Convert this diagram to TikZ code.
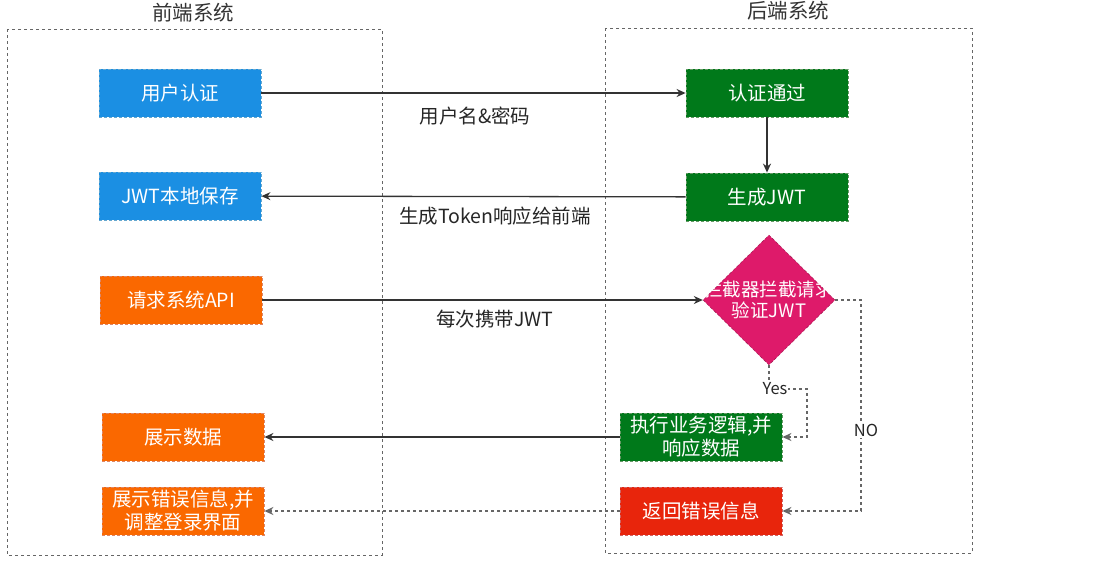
\documentclass[tikz,border=0pt]{standalone}
\usepackage{fontspec}
\setmainfont{Noto Sans CJK SC}
\usetikzlibrary{shapes.geometric,arrows.meta}

\definecolor{blueF}{HTML}{1B8FE3}
\definecolor{blueS}{HTML}{006EAF}
\definecolor{orgF}{HTML}{FA6800}
\definecolor{orgS}{HTML}{C73500}
\definecolor{grnF}{HTML}{00791A}
\definecolor{grnS}{HTML}{005700}
\definecolor{redF}{HTML}{E8250C}
\definecolor{redS}{HTML}{B20000}
\definecolor{pinkF}{HTML}{DE1A6A}
\definecolor{lineC}{HTML}{333333}
\definecolor{dashC}{HTML}{666666}

\begin{document}
\begin{tikzpicture}[x=1pt, y=-1pt,
  box/.style={minimum width=162pt, minimum height=48pt, inner sep=0pt, align=center,
    text=white, dash pattern=on 3pt off 2pt, line width=0.8pt,
    font=\fontsize{19.5}{23}\selectfont},
  bluebox/.style={box, fill=blueF, draw=blueS!60},
  orgbox/.style={box, fill=orgF, draw=orgS!60},
  grnbox/.style={box, fill=grnF, draw=grnS!60!white},
  redbox/.style={box, fill=redF, draw=redS!60},
  frame/.style={draw=dashC, line width=1pt, dash pattern=on 3pt off 3pt},
  title/.style={text=lineC, font=\fontsize{20.5}{24}\selectfont},
  lbl/.style={text=black!85, font=\fontsize{19.5}{23}\selectfont},
  flow/.style={draw=lineC, line width=1.3pt, -{Stealth[length=9pt,width=8pt]}},
  dflow/.style={draw=dashC, line width=1.3pt, dash pattern=on 3pt off 3pt,
    -{Stealth[length=9pt,width=8pt]}}]

  %% ════ 两个系统框 ════
  \draw[frame] (7,29) rectangle (382,555);
  \draw[frame] (605,28) rectangle (972,553);
  \node[title] (fe) at (193,13) {前端系统};
  \node[title] (be) at (788,11) {后端系统};

  %% ════ 前端节点 ════
  \node[bluebox] (auth)  at (180,93)  {用户认证};
  \node[bluebox] (store) at (180,196) {JWT本地保存};
  \node[orgbox]  (req)   at (181,300) {请求系统API};
  \node[orgbox]  (show)  at (183,437) {展示数据};
  \node[orgbox]  (showerr) at (183,511) {展示错误信息,并\\调整登录界面};

  %% ════ 后端节点 ════
  \node[grnbox] (pass) at (767,93)  {认证通过};
  \node[grnbox] (gen)  at (767,197) {生成JWT};
  \node[diamond, fill=pinkF, draw=pinkF!70!black, dash pattern=on 3pt off 2pt,
        minimum width=132pt, minimum height=130pt, inner sep=0pt] (check) at (769,300) {};
  \node[align=center, text=white, font=\fontsize{18.5}{21}\selectfont] (checktxt) at (check.center) {拦截器拦截请求\\验证JWT};
  \node[grnbox] (exec) at (701,437) {执行业务逻辑,并\\响应数据};
  \node[redbox] (err)  at (701,511) {返回错误信息};

  %% ════ 连线 ════
  \coordinate (yesturn) at (807,389);
  \coordinate (noturn) at (861,300);
  \draw[flow] (auth) -- (pass);
  \draw[flow] (pass) -- (gen);
  \draw[flow] (gen) -- (store);
  \draw[flow] (req) -- (check);
  \draw[flow] (exec) -- (show);
  \draw[dflow] (err) -- (showerr);
  \draw[dflow] (check.south) |- (yesturn) |- (exec.east);
  \draw[dflow] (check.east) -- (noturn) |- (err.east);

  %% ════ 标签 ════
  \node[lbl] (lbluser) at (475,116) {用户名\&密码};
  \node[lbl] (lbltok)  at (495,216) {生成Token响应给前端};
  \node[lbl] (lbljwt)  at (495,319) {每次携带JWT};
  \node[lbl, fill=white, inner sep=1pt, font=\fontsize{16.5}{19}\selectfont] (lblyes) at (775,389) {Yes};
  \node[lbl, fill=white, inner sep=2pt, font=\fontsize{16.5}{19}\selectfont] (lblno)  at (866,430) {NO};

  \pgfresetboundingbox
  \path[use as bounding box] (0,0) rectangle (1096,563);
\end{tikzpicture}
\end{document}
